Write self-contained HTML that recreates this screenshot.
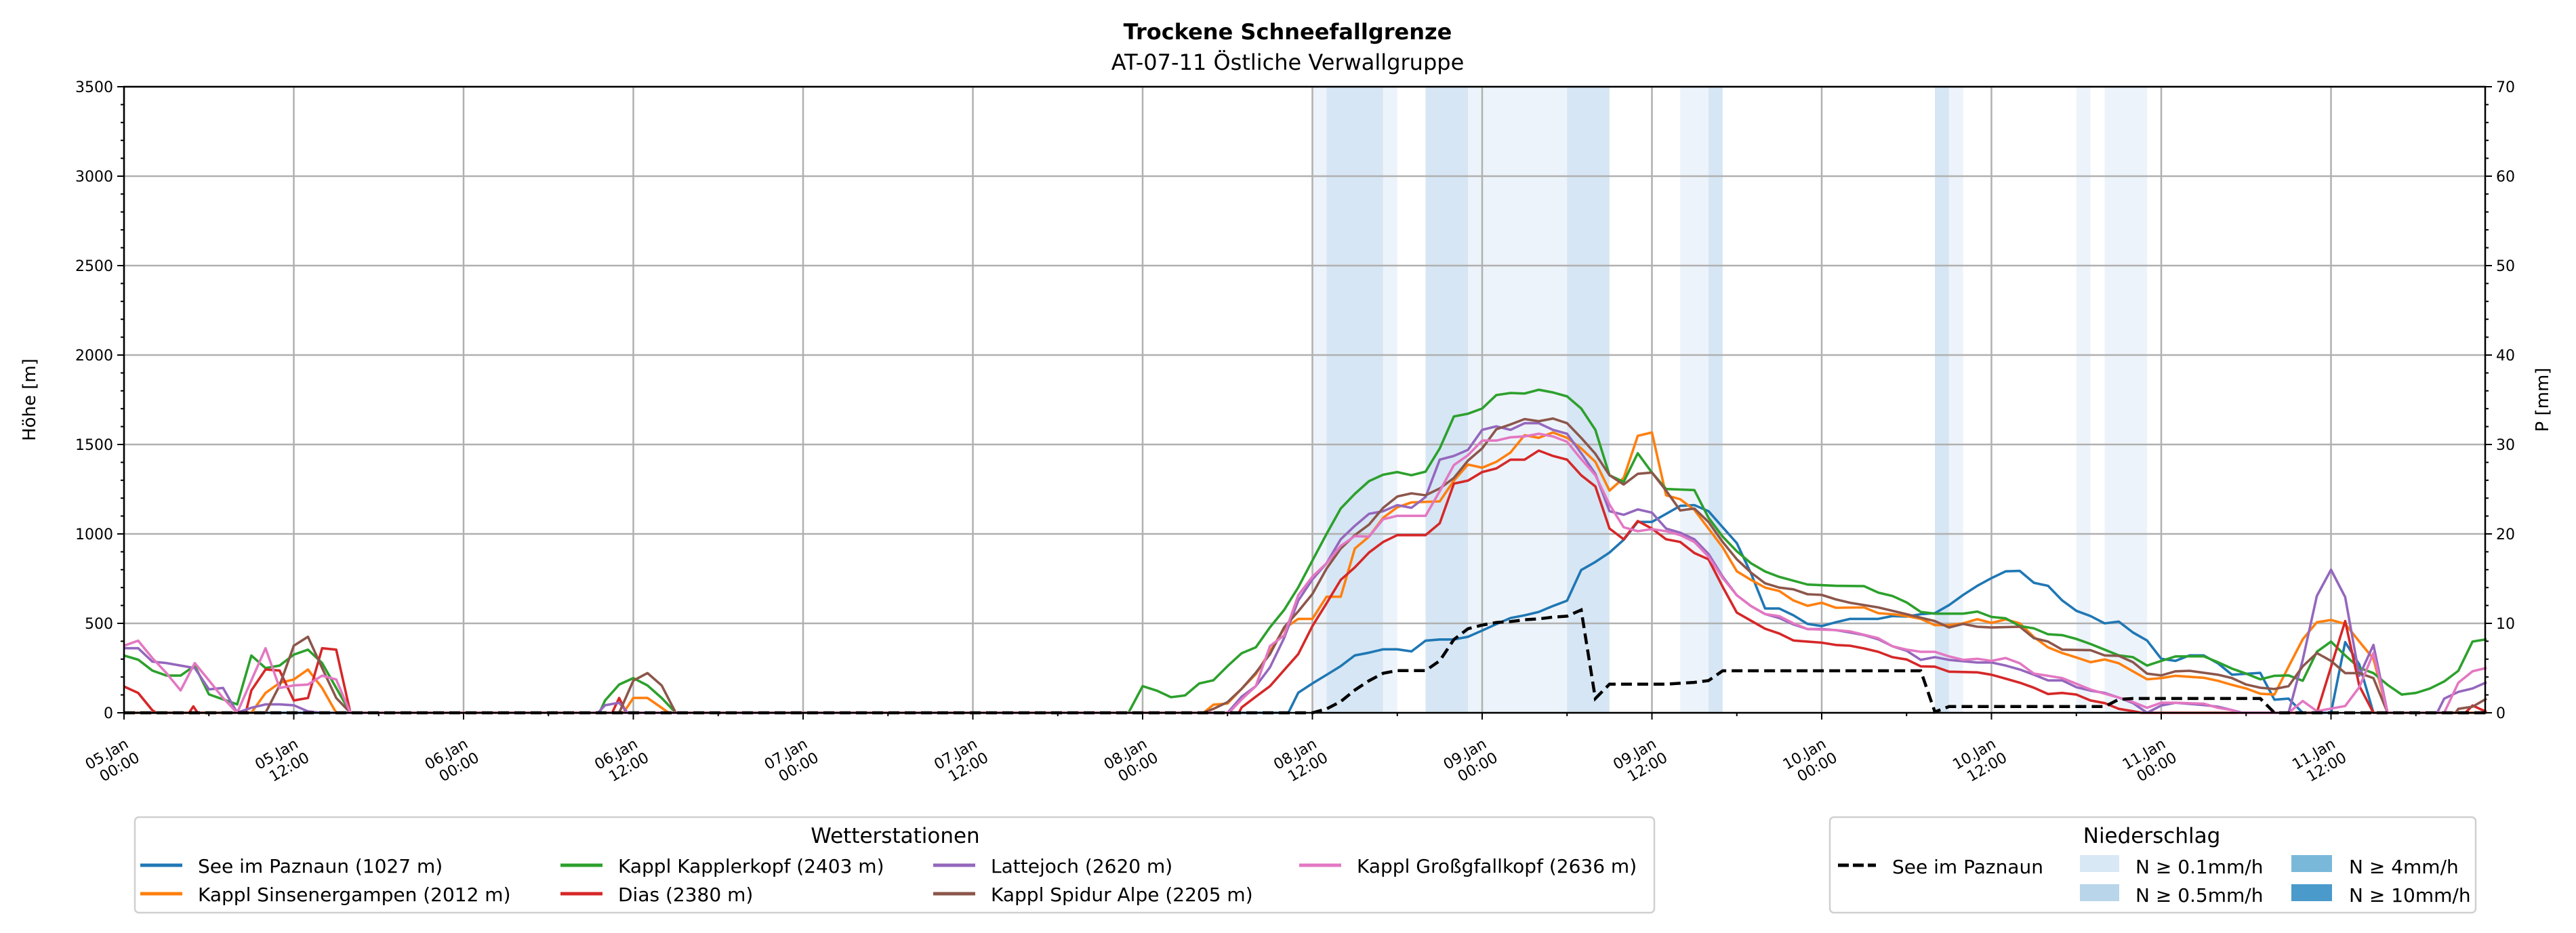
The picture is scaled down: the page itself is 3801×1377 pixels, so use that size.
<!DOCTYPE html>
<html><head><meta charset="utf-8">
<style>
html,body{margin:0;padding:0;background:#fff;}
svg{display:block;font-family:"DejaVu Sans","Liberation Sans",sans-serif;}
</style></head>
<body>
<svg id="chart" xmlns="http://www.w3.org/2000/svg" width="3801" height="1377" viewBox="0 0 3801 1377">
  <rect x="0" y="0" width="3801" height="1377" fill="#fff"/>
  <text x="1900" y="58" text-anchor="middle" font-size="32" font-weight="bold">Trockene Schneefallgrenze</text>
  <text x="1900" y="103" text-anchor="middle" font-size="32">AT-07-11 Östliche Verwallgruppe</text>
  <g id="bands"></g>
  <g id="grid"></g>
  <g id="series"></g>
  <g id="axes"></g>
  <text transform="translate(52,590) rotate(-90)" text-anchor="middle" font-size="26">Höhe [m]</text>
  <text transform="translate(3760,590) rotate(-90)" text-anchor="middle" font-size="26">P [mm]</text>

  <g>
    <rect x="199" y="1206" width="2242" height="141" rx="6" fill="#fff" stroke="#d0d0d0" stroke-width="2.5"/>
    <text x="1321" y="1244" text-anchor="middle" font-size="31">Wetterstationen</text>
    <g id="legend1"></g>
  </g>
  <g>
    <rect x="2700" y="1206" width="953" height="141" rx="6" fill="#fff" stroke="#d0d0d0" stroke-width="2.5"/>
    <text x="3175" y="1244" text-anchor="middle" font-size="31">Niederschlag</text>
    <line x1="2712" y1="1277" x2="2768" y2="1277" stroke="#000" stroke-width="5" stroke-dasharray="16,6"/>
    <text x="2792" y="1289" font-size="28">See im Paznaun</text>
    <rect x="3069" y="1262" width="58" height="25" fill="#d9e8f5"/>
    <text x="3151" y="1289" font-size="28">N ≥ 0.1mm/h</text>
    <rect x="3381" y="1262" width="60" height="25" fill="#7ab8da"/>
    <text x="3466" y="1289" font-size="28">N ≥ 4mm/h</text>
    <rect x="3069" y="1305" width="58" height="25" fill="#b8d5ea"/>
    <text x="3151" y="1331" font-size="28">N ≥ 0.5mm/h</text>
    <rect x="3381" y="1305" width="60" height="25" fill="#4a9acb"/>
    <text x="3466" y="1331" font-size="28">N ≥ 10mm/h</text>
  </g>
</svg>
<script>
// ---- data ----
const seeImPaznaun = [[0,0],[82.3,0],[83,112],[84,164],[85,212],[86,261],[87,321],[88,336],[89,355],[90,355],[91,343],[92,403],[93,410],[94,410],[95,425],[96,460],[97,496],[98,530],[99,545],[100,564],[101,597],[102,627],[103,798],[104,843],[105,896],[106,967],[107,1067],[108,1067],[109,1112],[110,1157],[111,1161],[112,1127],[113,1037],[114,948],[115,780],[116,583],[117,583],[118,545],[119,497],[120,485],[121,506],[122,525],[124,525],[125,541],[126,538],[127,551],[128,557],[129,602],[130,659],[131,710],[132,753],[133,791],[134,793],[135,727],[136,710],[137,628],[138,570],[139,541],[140,500],[141,510],[142,449],[143,404],[144,302],[145,290],[146,321],[147,321],[148,277],[149,213],[151,223],[152,73],[153,79],[154,0],[156,0],[157,395],[158,270],[159,0],[167,0]];
const kapplSinsenergampen = [[0,0],[9,0],[10,111],[11,167],[12,186],[13,242],[14,139],[15,0],[35.3,0],[36,83],[37,83],[38,28],[38.5,0],[76.3,0],[77,45],[78,52],[79,134],[80,216],[81,343],[82,470],[83,525],[84,525],[85,649],[86,649],[87,918],[88,985],[89,1090],[90,1149],[91,1176],[92,1179],[93,1182],[94,1298],[95,1388],[96,1370],[97,1403],[98,1455],[99,1552],[100,1537],[101,1567],[102,1537],[103,1478],[104,1403],[105,1242],[106,1313],[107,1548],[108,1567],[109,1216],[110,1194],[111,1134],[112,1030],[113,925],[114,791],[115,743],[116,700],[117,681],[118,628],[119,598],[120,615],[121,587],[123,589],[124,557],[125,551],[126,541],[127,525],[128,490],[129,490],[130,500],[131,523],[132,503],[133,522],[134,500],[135,423],[136,366],[137,334],[138,309],[139,283],[140,298],[141,277],[142,232],[143,187],[144,194],[145,207],[147,196],[148,179],[149,156],[150,136],[151,107],[152,102],[153,258],[154,411],[155,506],[156,519],[157,497],[158,398],[159,302],[160,0],[167,0]];
const kapplKapplerkopf = [[0,320],[1,297],[2,236],[3,208],[4,208],[5,264],[6,103],[7,75],[8,47],[9,320],[10,250],[11,264],[12,325],[13,353],[14,278],[15,139],[16,0],[33.6,0],[34,69],[35,158],[36,194],[37,153],[38,83],[39,0],[71,0],[72,149],[73,124],[74,87],[75,97],[76,164],[77,182],[78,261],[79,333],[80,366],[81,478],[82,575],[83,701],[84,851],[85,1000],[86,1142],[87,1224],[88,1295],[89,1331],[90,1346],[91,1328],[92,1348],[93,1478],[94,1657],[95,1672],[96,1701],[97,1776],[98,1788],[99,1785],[100,1806],[101,1791],[102,1769],[103,1701],[104,1582],[105,1328],[106,1291],[107,1451],[108,1343],[109,1251],[110,1248],[111,1245],[112,1090],[113,985],[114,903],[115,836],[116,790],[117,760],[119,717],[121,710],[123,708],[124,672],[125,653],[126,617],[127,564],[128,554],[130,554],[131,566],[132,536],[133,528],[134,485],[135,472],[136,439],[137,434],[138,413],[139,385],[140,353],[141,321],[142,311],[143,264],[144,290],[145,315],[147,316],[148,283],[149,247],[150,219],[151,187],[152,207],[153,209],[154,179],[155,341],[156,398],[157,321],[158,251],[159,222],[160,156],[161,102],[162,111],[163,136],[164,175],[165,235],[166,398],[167,411]];
const dias = [[0,147],[1,111],[2,14],[2.3,0],[4.6,0],[4.9,36],[5.2,0],[8.6,0],[9,125],[10,242],[11,236],[12,69],[13,83],[14,361],[15,353],[16,0],[34.5,0],[35,83],[35.5,0],[78.8,0],[79,30],[80,90],[81,149],[82,239],[83,328],[84,485],[85,612],[86,743],[87,813],[88,896],[89,955],[90,993],[91,993],[92,993],[93,1060],[94,1281],[95,1298],[96,1346],[97,1366],[98,1415],[99,1415],[100,1466],[101,1436],[102,1415],[103,1328],[104,1266],[105,1030],[106,970],[107,1072],[108,1030],[109,970],[110,955],[111,893],[112,858],[113,704],[114,560],[115,515],[116,470],[117,443],[118,404],[119,398],[120,392],[121,379],[122,375],[123,360],[124,341],[125,311],[126,298],[127,260],[128,258],[129,230],[131,226],[132,213],[133,191],[134,168],[135,140],[136,105],[137,111],[138,102],[139,69],[140,54],[141,22],[142,9],[142.6,0],[155,0],[157,513],[158,150],[159,0],[165.5,0],[166,41],[167,5]];
const lattejoch = [[0,361],[1,361],[2,286],[3,278],[4,264],[5,250],[6,131],[7,139],[8,0],[9,28],[10,47],[11,47],[12,42],[13,8],[14,0],[33.5,0],[34,42],[35,56],[35.6,0],[78,0],[79,90],[80,149],[81,254],[82,418],[83,627],[84,746],[85,836],[86,970],[87,1045],[88,1112],[89,1127],[90,1161],[91,1146],[92,1206],[93,1415],[94,1436],[95,1470],[96,1582],[97,1601],[98,1582],[99,1619],[100,1619],[101,1582],[102,1560],[103,1451],[104,1336],[105,1127],[106,1107],[107,1137],[108,1119],[109,1030],[110,1007],[111,970],[112,888],[113,761],[114,657],[115,597],[116,552],[117,530],[118,494],[119,468],[120,468],[121,462],[122,449],[123,434],[124,411],[125,372],[126,347],[127,296],[128,311],[129,296],[131,281],[132,281],[133,264],[134,242],[135,213],[136,181],[137,181],[138,143],[139,124],[140,111],[141,85],[142,54],[143,0],[144,41],[145,56],[147,43],[148,34],[149,15],[149.7,0],[153,0],[154,296],[155,653],[156,800],[157,647],[158,207],[159,379],[160,0],[163.5,0],[164,79],[165,117],[166,136],[167,171]];
const kapplSpidurAlpe = [[0,0],[10,0],[11,153],[12,375],[13,425],[14,250],[15,83],[16,0],[35,0],[36,180],[37,222],[38,153],[39,0],[76.3,0],[77,22],[78,60],[79,134],[80,224],[81,328],[82,478],[83,567],[84,664],[85,806],[86,918],[87,993],[88,1052],[89,1146],[90,1209],[91,1227],[92,1216],[93,1254],[94,1313],[95,1410],[96,1478],[97,1585],[98,1612],[99,1642],[100,1630],[101,1645],[102,1619],[103,1537],[104,1448],[105,1328],[106,1276],[107,1336],[108,1343],[109,1242],[110,1131],[111,1142],[112,1067],[113,955],[114,858],[115,784],[116,724],[117,700],[118,690],[119,663],[120,659],[121,634],[122,615],[124,589],[125,570],[126,551],[127,532],[128,513],[129,477],[130,497],[131,481],[132,477],[134,481],[135,417],[136,398],[137,353],[139,350],[140,321],[141,318],[142,283],[143,219],[144,209],[145,232],[146,235],[148,213],[149,194],[150,158],[151,140],[152,133],[153,149],[154,260],[155,334],[156,290],[157,222],[158,222],[159,194],[160,0],[164.8,0],[165,22],[166,34],[167,79]];
const kapplGrossgfallkopf = [[0,375],[1,403],[2,306],[3,222],[4,125],[5,278],[6,181],[7,83],[8,0],[9,181],[10,361],[11,139],[12,153],[13,158],[14,208],[15,186],[16,0],[78.1,0],[79,75],[80,149],[81,373],[82,433],[83,657],[84,761],[85,836],[86,933],[87,988],[88,985],[89,1082],[90,1101],[91,1101],[92,1101],[93,1239],[94,1385],[95,1440],[96,1522],[97,1522],[98,1540],[99,1545],[100,1560],[101,1545],[102,1515],[103,1418],[104,1328],[105,1164],[106,1037],[107,1015],[108,1027],[109,1015],[110,993],[111,955],[112,873],[113,754],[114,657],[115,597],[116,552],[117,540],[118,500],[119,468],[121,462],[122,455],[123,436],[124,417],[125,372],[126,353],[127,341],[128,341],[129,315],[130,296],[131,302],[132,290],[133,306],[134,277],[135,219],[136,207],[137,194],[138,162],[139,130],[140,107],[141,85],[142,60],[143,28],[144,56],[145,56],[147,51],[148,28],[149,15],[149.5,0],[153,0],[154,66],[155,9],[157,38],[158,143],[159,334],[160,0],[164,0],[165,168],[166,232],[167,251]];
const precipSee = [[0,0],[84,0],[85,0.44],[86,1.26],[87,2.54],[88,3.58],[89,4.42],[90,4.72],[92,4.72],[93,5.82],[94,8.2],[95,9.4],[96,9.8],[97,10.1],[98,10.2],[99,10.4],[100,10.5],[101,10.7],[102,10.8],[103,11.5],[104,1.6],[105,3.2],[109,3.2],[110,3.3],[111,3.4],[112,3.6],[113,4.7],[127,4.7],[128,0.1],[129,0.7],[140,0.7],[141,1.5],[142,1.6],[151,1.6],[152,0],[167,0]];
const bandStart = [84,85,89,92,95,102,110,112,128,129,138,140];
const bandEnd   = [85,89,90,95,102,105,112,113,129,130,139,143];
const bandLevel = [1,2,1,2,1,2,1,2,2,1,1,1];
const yTicks = [0,500,1000,1500,2000,2500,3000,3500];
const y2Ticks = [0,10,20,30,40,50,60,70];
const xTickDays = ["05.Jan","05.Jan","06.Jan","06.Jan","07.Jan","07.Jan","08.Jan","08.Jan","09.Jan","09.Jan","10.Jan","10.Jan","11.Jan","11.Jan"];
const xTickTimes = ["00:00","12:00","00:00","12:00","00:00","12:00","00:00","12:00","00:00","12:00","00:00","12:00","00:00","12:00"];

// ---- axes functions ----
const L=183,R=3667,T=128,B=1052, HMAX=(R-L)/(250.5/12);
const xs=h=>L+h*(250.5/12);
const ys=v=>B-v*(B-T)/3500;
const yp=m=>B-m*(B-T)/70;
const NS="http://www.w3.org/2000/svg";
function mk(tag,attrs,parent){const e=document.createElementNS(NS,tag);for(const k in attrs)e.setAttribute(k,attrs[k]);parent.appendChild(e);return e;}

// bands
const bandColors={1:"#edf3fa",2:"#d6e6f4",3:"#a9cfe6",4:"#7ab3d6"};
const gB=document.getElementById('bands');
bandStart.forEach((s,i)=>{
  const r=mk('rect',{x:xs(s),y:T,width:xs(bandEnd[i])-xs(s),height:B-T,fill:bandColors[bandLevel[i]]},gB);
  
  
});

// grid
const gG=document.getElementById('grid');
yTicks.forEach(v=>{const l=mk('line',{x1:L,x2:R,y1:ys(v),y2:ys(v),stroke:"#b0b0b0","stroke-width":2.5},gG);
  
  });
xTickDays.forEach((d,i)=>{const x=xs(i*12);const l=mk('line',{x1:x,x2:x,y1:T,y2:B,stroke:"#b0b0b0","stroke-width":2.5},gG);
  
  });

// series
const gS=document.getElementById('series');
function path(data,fy){return data.map((p,i)=>(i?'L':'M')+xs(p[0]).toFixed(1)+','+fy(p[1]).toFixed(1)).join('');}
const seriesList=[
  [seeImPaznaun,"#1f77b4","see-im-paznaun-line"],
  [kapplSinsenergampen,"#ff7f0e","kappl-sinsenergampen-line"],
  [kapplKapplerkopf,"#2ca02c","kappl-kapplerkopf-line"],
  [dias,"#d62728","dias-line"],
  [lattejoch,"#9467bd","lattejoch-line"],
  [kapplSpidurAlpe,"#8c564b","kappl-spidur-alpe-line"],
  [kapplGrossgfallkopf,"#e377c2","kappl-grossgfallkopf-line"]];
seriesList.forEach(s=>{const p=mk('path',{d:path(s[0],ys),fill:"none",stroke:s[1],"stroke-width":3.6,"stroke-linejoin":"round"},gS);
  
  });
const pp=mk('path',{d:path(precipSee,yp),fill:"none",stroke:"#000","stroke-width":4.5,"stroke-dasharray":"16,8"},gS);



// axes
const gA=document.getElementById('axes');
mk('rect',{x:L,y:T,width:R-L,height:B-T,fill:"none",stroke:"#000","stroke-width":2.5},gA);
for(let v=0;v<=3500;v+=100){const y=ys(v);const big=v%500===0;mk('line',{x1:L,x2:L-(big?10:5),y1:y,y2:y,stroke:"#000","stroke-width":2},gA);}
for(let m=0;m<=70;m+=2){const y=yp(m);const big=m%10===0;mk('line',{x1:R,x2:R+(big?10:5),y1:y,y2:y,stroke:"#000","stroke-width":2},gA);}
for(let h=0;h<=HMAX;h+=6){const x=xs(h);const big=h%12===0;mk('line',{x1:x,x2:x,y1:B,y2:B+(big?10:5),stroke:"#000","stroke-width":2},gA);}
yTicks.forEach(v=>{const t=mk('text',{x:L-16,y:ys(v)+8,"text-anchor":"end","font-size":22},gA);t.textContent=v;
  
  });
y2Ticks.forEach(v=>{const t=mk('text',{x:R+16,y:yp(v)+8,"font-size":22},gA);t.textContent=v;
  
  });
xTickDays.forEach((d,i)=>{const x=xs(i*12);
  const t=mk('text',{transform:`translate(${x+8},${1102}) rotate(-30)`,"text-anchor":"end","font-size":22},gA);
  
  
  const a=mk('tspan',{x:0,y:0},t);a.textContent=d;
  const b=mk('tspan',{x:4,y:26},t);b.textContent=xTickTimes[i];});

// legend
const legendNames=["See im Paznaun (1027 m)","Kappl Sinsenergampen (2012 m)","Kappl Kapplerkopf (2403 m)","Dias (2380 m)","Lattejoch (2620 m)","Kappl Spidur Alpe (2205 m)","Kappl Großgfallkopf (2636 m)"];
const legendColX=[207,827,1377,1917];
const gL=document.getElementById('legend1');
legendNames.forEach((n,i)=>{const col=Math.floor(i/2),row=i%2;const x=legendColX[col],y=row?1319:1277;
  const l=mk('line',{x1:x,x2:x+62,y1:y,y2:y,stroke:seriesList[i][1],"stroke-width":5},gL);
  
  
  const t=mk('text',{x:x+85,y:y+11,"font-size":28},gL);t.textContent=n;
  
  });
</script>
</body></html>
